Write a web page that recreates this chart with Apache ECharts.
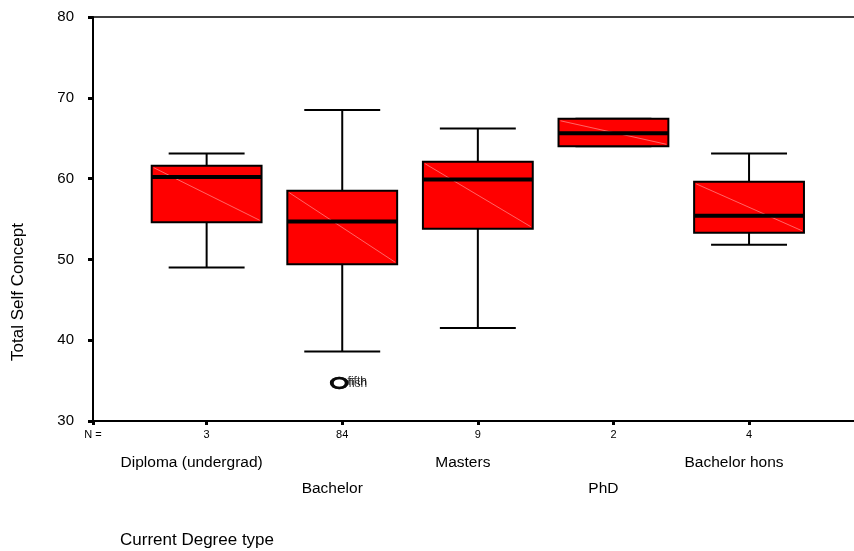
<!DOCTYPE html>
<html>
<head>
<meta charset="utf-8">
<script src="https://cdn.jsdelivr.net/npm/echarts@6/dist/echarts.min.js"></script>
<style>
html,body{margin:0;padding:0;background:#fff;}
#chart{width:854px;height:551px;}
</style>
</head>
<body>
<div id="chart"></div>
<script>
// ---- data ----
const categories = ['Diploma (undergrad)', 'Bachelor', 'Masters', 'PhD', 'Bachelor hons'];
const nCounts = [3, 84, 9, 2, 4];
const whiskerLow = [49.0, 38.6, 41.5, 64.0, 51.8];
const q1 = [54.6, 49.4, 53.8, 64.0, 53.3];
const medians = [60.2, 54.7, 59.9, 65.6, 55.4];
const q3 = [61.6, 58.5, 62.1, 67.4, 59.6];
const whiskerHigh = [63.1, 68.5, 66.2, 67.4, 63.1];
const outlierCategory = [1, 1];
const outlierValues = [34.7, 34.7];
const outlierLabels = ['fifth', 'fish'];
const yTicks = [30, 40, 50, 60, 70, 80];
const yTitle = 'Total Self Concept';
const xTitle = 'Current Degree type';

// ---- build ----
const FONT = "'Liberation Sans', Arial, sans-serif";
const xMin = 0.162, xMax = 5.774;
const catPos = categories.map((c, i) => i + 1);
const boxData = categories.map((c, i) => [i + 1, whiskerLow[i], q1[i], medians[i], q3[i], whiskerHigh[i]]);
const outData = outlierValues.map((v, i) => ({
  value: [outlierCategory[i] + 1, v],
  label: { offset: i === 0 ? [0, -1] : [1, 1] }
}));

const chart = echarts.init(document.getElementById('chart'), null, { renderer: 'canvas' });

function renderBox(params, api) {
  const x = api.value(0);
  const pLow = api.coord([x, api.value(1)]);
  const pQ1 = api.coord([x, api.value(2)]);
  const pMed = api.coord([x, api.value(3)]);
  const pQ3 = api.coord([x, api.value(4)]);
  const pHigh = api.coord([x, api.value(5)]);
  const boxW = api.size([0.81, 0])[0];
  const capW = api.size([0.56, 0])[0];
  const cx = pMed[0];
  const line = (x1, y1, x2, y2, w, c) => ({
    type: 'line', shape: { x1, y1, x2, y2 },
    style: { stroke: c || '#000', lineWidth: w }
  });
  return {
    type: 'group',
    children: [
      line(cx, pHigh[1], cx, pQ3[1], 2),
      line(cx, pQ1[1], cx, pLow[1], 2),
      line(cx - capW / 2, pHigh[1], cx + capW / 2, pHigh[1], 2),
      line(cx - capW / 2, pLow[1], cx + capW / 2, pLow[1], 2),
      {
        type: 'rect',
        shape: { x: cx - boxW / 2, y: pQ3[1], width: boxW, height: pQ1[1] - pQ3[1] },
        style: { fill: '#ff0000', stroke: '#000', lineWidth: 2 }
      },
      line(cx - boxW / 2 + 2, pQ3[1] + 2, cx + boxW / 2 - 2, pQ1[1] - 2, 0.7, '#ff9090'),
      line(cx - boxW / 2, pMed[1], cx + boxW / 2, pMed[1], 4)
    ]
  };
}

const option = {
  backgroundColor: '#fff',
  animation: false,
  textStyle: { fontFamily: FONT, color: '#000' },
  grid: { left: 93, right: 0, top: 17, bottom: 130, containLabel: false },
  xAxis: [{
    type: 'value', position: 'bottom', min: xMin, max: xMax,
    splitLine: { show: false },
    axisLine: { show: true, lineStyle: { color: '#000', width: 2 } },
    axisTick: { show: true, customValues: [xMin].concat(catPos), length: 4, lineStyle: { color: '#000', width: 3 } },
    axisLabel: {
      show: true, customValues: [xMin].concat(catPos), margin: 7,
      showMinLabel: true, showMaxLabel: true,
      formatter: function (v) {
        if (v < 0.5) return '{n|N =}';
        const i = Math.round(v) - 1;
        return '{n|' + nCounts[i] + '}\n{' + (i % 2 ? 'c2' : 'c') + '|' + categories[i] + '}';
      },
      rich: {
        n: { fontSize: 11, lineHeight: 14, fontFamily: FONT, color: '#000' },
        c: { fontSize: 15.5, lineHeight: 42, fontFamily: FONT, color: '#000', padding: [0, 30, 0, 0] },
        c2: { fontSize: 15.5, lineHeight: 94, fontFamily: FONT, color: '#000', padding: [0, 20, 0, 0] }
      }
    }
  }, {
    type: 'value', position: 'top', min: xMin, max: xMax,
    splitLine: { show: false },
    axisLine: { show: true, lineStyle: { color: '#000', width: 1.5 } },
    axisTick: { show: false }, axisLabel: { show: false }
  }],
  yAxis: {
    type: 'value', min: yTicks[0], max: yTicks[yTicks.length - 1], interval: 10,
    splitLine: { show: false },
    axisLine: { show: true, lineStyle: { color: '#000', width: 2 } },
    axisTick: { show: true, length: 5, lineStyle: { color: '#000', width: 3 } },
    axisLabel: { fontSize: 15, color: '#000', margin: 19, fontFamily: FONT }
  },
  graphic: [
    {
      type: 'text', x: 18, y: 292, rotation: Math.PI / 2,
      style: { text: yTitle, fontSize: 17, fontFamily: FONT, fill: '#000', textAlign: 'center', textVerticalAlign: 'middle' }
    },
    {
      type: 'text', x: 120, y: 540,
      style: { text: xTitle, fontSize: 17, fontFamily: FONT, fill: '#000', textAlign: 'left', textVerticalAlign: 'middle' }
    }
  ],
  series: [
    {
      type: 'custom', xAxisIndex: 0, renderItem: renderBox,
      encode: { x: 0, y: [1, 2, 3, 4, 5] },
      data: boxData, z: 3
    },
    {
      type: 'scatter', xAxisIndex: 0, data: outData, z: 4,
      symbol: 'circle', symbolSize: [15, 10], symbolOffset: [-3, 0],
      itemStyle: { color: 'rgba(0,0,0,0)', borderColor: '#000', borderWidth: 3 },
      label: {
        show: true, position: 'right', distance: -1, fontSize: 12, color: '#000', fontFamily: FONT,
        formatter: function (p) { return outlierLabels[p.dataIndex]; }
      }
    }
  ]
};
chart.setOption(option);
</script>
</body>
</html>
